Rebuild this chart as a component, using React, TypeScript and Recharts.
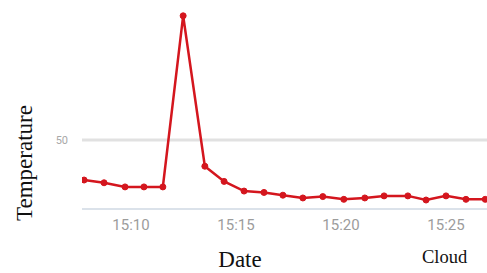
import React from "react";
import { LineChart, Line, XAxis, YAxis, ReferenceLine } from "recharts";

const times = [
  "15:07:46", "15:08:43", "15:09:43", "15:10:37", "15:11:31", "15:12:29", "15:13:31",
  "15:14:26", "15:15:23", "15:16:20", "15:17:14", "15:18:11", "15:19:08", "15:20:08",
  "15:21:08", "15:22:03", "15:23:11", "15:24:03", "15:25:00", "15:25:57", "15:26:52",
];
const temperatures = [
  21, 19, 16, 16, 16, 140, 31, 20, 13, 12, 10, 8, 9, 7, 8, 9.5, 9.5, 6.5, 9.5, 7, 7,
];
const xTicks = [10, 15, 20, 25];
const yTicks = [50];

const toMinutes = (s: string) => {
  const [h, m, sec] = s.split(":").map(Number);
  return (h - 15) * 60 + m + sec / 60;
};

const data = times.map((t, i) => ({ t: toMinutes(t), v: temperatures[i] }));

const fmtX = (m: number) => `15:${String(Math.round(m)).padStart(2, "0")}`;

export default function App() {
  return (
    <div style={{ position: "absolute", left: 0, top: 0, width: 487, height: 273, background: "#fff" }}>
      <LineChart width={487} height={273} data={data} margin={{ top: 2, right: 0, bottom: 0, left: 0 }}>
        <XAxis
          dataKey="t"
          type="number"
          domain={[7.667, 26.952]}
          allowDataOverflow
          ticks={xTicks}
          tickFormatter={fmtX}
          height={64}
          tickLine={false}
          tickSize={0}
          tickMargin={10}
          axisLine={{ stroke: "#dbe2ea", strokeWidth: 2 }}
          tick={{ fill: "#9c9c9c", fontSize: 15, fontFamily: "Roboto" }}
        />
        <YAxis
          type="number"
          domain={[0, 150]}
          ticks={yTicks}
          width={82}
          axisLine={false}
          tickLine={false}
          tickSize={0}
          tickMargin={14}
          tick={{ fill: "#a8a8a8", fontSize: 11, fontFamily: "Roboto" }}
        />
        <ReferenceLine y={50} stroke="#e1e1e1" strokeWidth={3} />
        <Line
          type="linear"
          dataKey="v"
          stroke="#d4161e"
          strokeWidth={2.5}
          dot={{ r: 3, fill: "#d4161e", stroke: "#d4161e", strokeWidth: 1 }}
          isAnimationActive={false}
        />
      </LineChart>
      <svg width={487} height={273} style={{ position: "absolute", left: 0, top: 0, pointerEvents: "none" }}>
        <text
          x={32}
          y={163}
          textAnchor="middle"
          transform="rotate(-90, 32, 163)"
          fontFamily="'Liberation Serif', serif"
          fontSize={23}
          fill="#111"
        >
          Temperature
        </text>
        <text x={240} y={267} textAnchor="middle" fontFamily="'Liberation Serif', serif" fontSize={23} fill="#111">
          Date
        </text>
        <text x={422} y={263} fontFamily="'Liberation Serif', serif" fontSize={18.5} fill="#111">
          Cloud
        </text>
      </svg>
    </div>
  );
}
